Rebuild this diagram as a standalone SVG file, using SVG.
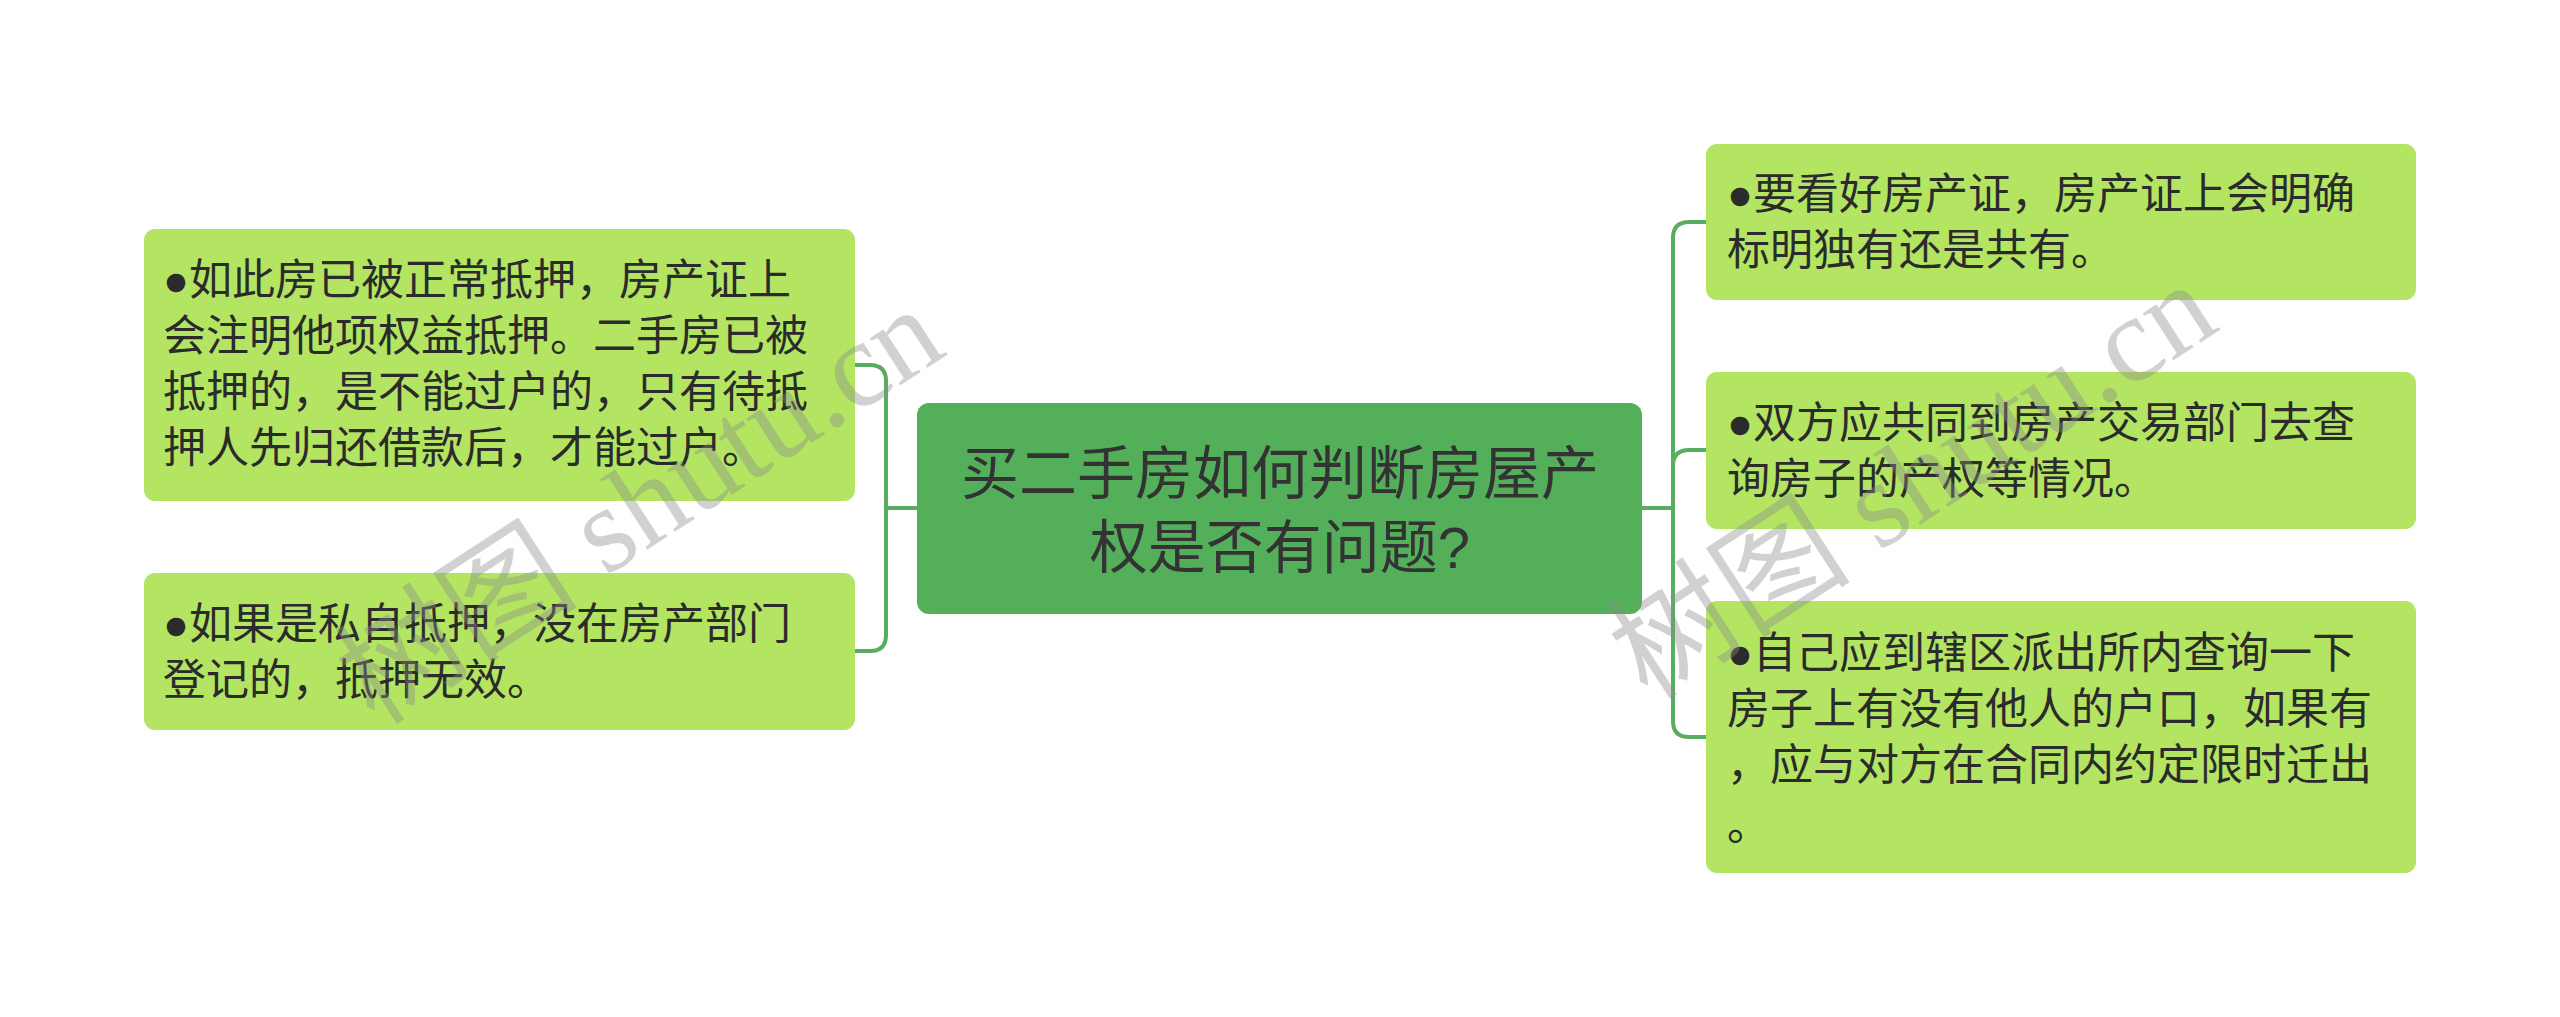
<svg xmlns="http://www.w3.org/2000/svg" width="2560" height="1017" viewBox="0 0 2560 1017">
<style>
.leaf{fill:#B3E462;}
.root{fill:#54AF5B;}
.lt{font-family:"Liberation Sans","Noto Sans CJK SC",sans-serif;font-size:43px;fill:#2b2b2b;}
.rt{font-family:"Liberation Sans","Noto Sans CJK SC",sans-serif;font-size:58px;fill:#333333;text-anchor:middle;}
.conn{fill:none;stroke:#58AD60;stroke-width:4;}
.wm{font-family:"Liberation Serif","Noto Sans CJK SC",serif;font-size:122px;fill:#8c8c8c;fill-opacity:0.4;text-anchor:middle;}
</style>
<rect width="2560" height="1017" fill="#ffffff"/>
<g id="connectors">
<path class="conn" d="M917,508 H886"/>
<path class="conn" d="M855,365 H870 Q886,365 886,381 V635 Q886,651 870,651 H855"/>
<path class="conn" d="M1642,508 H1673"/>
<path class="conn" d="M1706,222 H1689 Q1673,222 1673,238 V721 Q1673,737 1689,737 H1706"/>
<path class="conn" d="M1673,508 V466 Q1673,450 1689,450 H1706"/>
</g>
<g id="root">
<rect class="root" x="917" y="403" width="725" height="211" rx="12"/>
<text class="rt" x="1280" y="494">买二手房如何判断房屋产</text>
<text class="rt" x="1280" y="568">权是否有问题?</text>
</g>
<g id="left1">
<rect class="leaf" x="144" y="229" width="711" height="272" rx="11"/>
<text class="lt" x="163" y="295">●如此房已被正常抵押，房产证上</text>
<text class="lt" x="163" y="351">会注明他项权益抵押。二手房已被</text>
<text class="lt" x="163" y="407">抵押的，是不能过户的，只有待抵</text>
<text class="lt" x="163" y="463">押人先归还借款后，才能过户。</text>
</g>
<g id="left2">
<rect class="leaf" x="144" y="573" width="711" height="157" rx="11"/>
<text class="lt" x="163" y="639">●如果是私自抵押，没在房产部门</text>
<text class="lt" x="163" y="695">登记的，抵押无效。</text>
</g>
<g id="right1">
<rect class="leaf" x="1706" y="144" width="710" height="156" rx="11"/>
<text class="lt" x="1727" y="209">●要看好房产证，房产证上会明确</text>
<text class="lt" x="1727" y="265">标明独有还是共有。</text>
</g>
<g id="right2">
<rect class="leaf" x="1706" y="372" width="710" height="157" rx="11"/>
<text class="lt" x="1727" y="438">●双方应共同到房产交易部门去查</text>
<text class="lt" x="1727" y="494">询房子的产权等情况。</text>
</g>
<g id="right3">
<rect class="leaf" x="1706" y="601" width="710" height="272" rx="11"/>
<text class="lt" x="1727" y="668">●自己应到辖区派出所内查询一下</text>
<text class="lt" x="1727" y="724">房子上有没有他人的户口，如果有</text>
<text class="lt" x="1727" y="780">，应与对方在合同内约定限时迁出</text>
<text class="lt" x="1727" y="840">。</text>
</g>
<g id="watermark">
<text class="wm" transform="translate(662,540) rotate(-33)">树图 shutu.cn</text>
<text class="wm" transform="translate(1935,515) rotate(-33)">树图 shutu.cn</text>
</g>
</svg>
